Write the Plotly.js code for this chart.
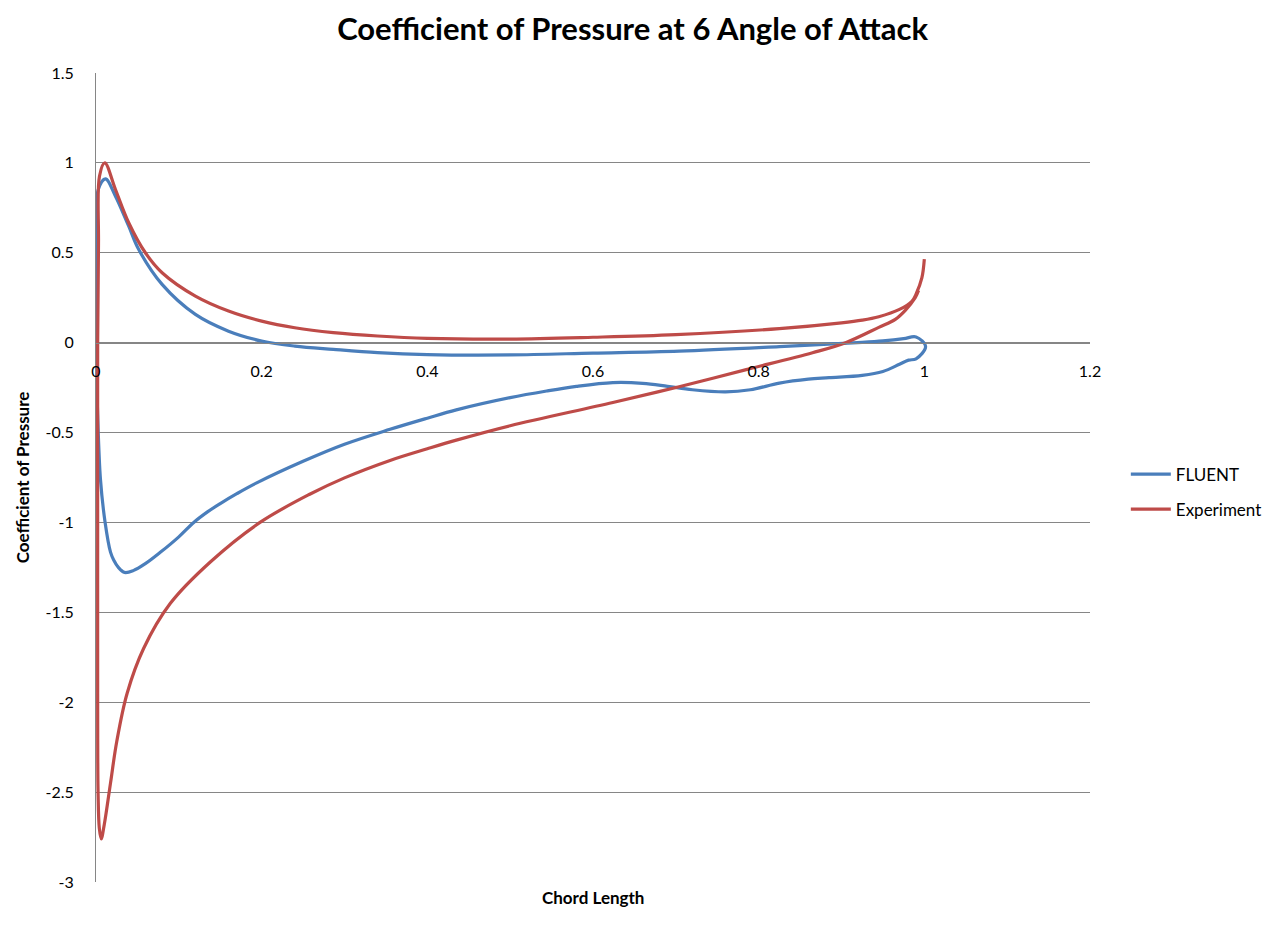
<!DOCTYPE html>
<html>
<head>
<meta charset="utf-8">
<script src="https://cdn.plot.ly/plotly-3.0.1.min.js"></script>
<style>
  body { margin: 0; background: #fff; }
  #chart { width: 1278px; height: 926px; }
</style>
</head>
<body>
<div id="chart"></div>
<script>
// FLUENT: round the section, start at trailing edge, pressure side first
const fluentX = [1.0015, 0.99, 0.975, 0.95, 0.925, 0.825, 0.704, 0.6, 0.5, 0.4, 0.34, 0.2865, 0.24,
  0.2, 0.16, 0.12, 0.0798, 0.0516, 0.0395, 0.0235, 0.0114, 0.0026, 0.0005, 0.0, 0.002, 0.0054,
  0.011, 0.0175, 0.0215, 0.027, 0.0345, 0.045, 0.06, 0.078, 0.1, 0.118, 0.135, 0.15, 0.17, 0.194,
  0.25, 0.3, 0.355, 0.4, 0.435, 0.5, 0.544, 0.58, 0.624, 0.66, 0.69, 0.72, 0.76, 0.79, 0.825,
  0.86, 0.885, 0.925, 0.95, 0.97, 0.981, 0.99, 1.0015];
const fluentY = [-0.022, 0.032, 0.022, 0.01, 0.002, -0.022, -0.047, -0.058, -0.068, -0.066, -0.055,
  -0.037, -0.019, 0.009, 0.064, 0.157, 0.324, 0.518, 0.648, 0.815, 0.911, 0.85, 0.5, 0.0,
  -0.4, -0.76, -1.0, -1.165, -1.21, -1.25, -1.278, -1.268, -1.228, -1.165, -1.08, -1.0, -0.94,
  -0.895, -0.84, -0.78, -0.66, -0.565, -0.482, -0.42, -0.374, -0.306, -0.269, -0.243, -0.222,
  -0.226, -0.243, -0.262, -0.274, -0.262, -0.225, -0.203, -0.195, -0.182, -0.16, -0.12, -0.097,
  -0.09, -0.022];

// Experiment
const expX = [1.0, 0.997, 0.99, 0.985, 0.97, 0.945, 0.925, 0.9, 0.825, 0.7, 0.6, 0.5, 0.4, 0.34,
  0.2865, 0.24, 0.2, 0.16, 0.12, 0.0798, 0.0596, 0.0395, 0.0235, 0.0106, 0.0042, 0.003, 0.002,
  0.002, 0.002, 0.0025, 0.004, 0.0063, 0.01, 0.0175, 0.025, 0.0376, 0.0576, 0.0898, 0.138, 0.198,
  0.258, 0.3, 0.355, 0.4, 0.435, 0.5, 0.624, 0.704, 0.785, 0.865, 0.905, 0.945, 0.965, 0.977,
  0.989, 0.993];
const expY = [0.465, 0.36, 0.27, 0.23, 0.185, 0.144, 0.125, 0.11, 0.078, 0.045, 0.03, 0.02, 0.024,
  0.037, 0.056, 0.083, 0.12, 0.176, 0.259, 0.389, 0.5, 0.667, 0.852, 1.0, 0.926, 0.55, 0.0,
  -1.0, -2.0, -2.5, -2.7, -2.76, -2.68, -2.45, -2.22, -1.95, -1.7, -1.45, -1.22, -1.0,
  -0.843, -0.752, -0.655, -0.59, -0.542, -0.462, -0.333, -0.245, -0.15, -0.056, 0.0, 0.085, 0.13,
  0.18, 0.25, 0.29];

const xTicks = [0, 0.2, 0.4, 0.6, 0.8, 1, 1.2];
const yTicks = [1.5, 1, 0.5, 0, -0.5, -1, -1.5, -2, -2.5, -3];

const font = "Lato, 'Open Sans', 'DejaVu Sans', sans-serif";

var data = [
  {
    x: fluentX, y: fluentY, mode: "lines", type: "scatter", name: "FLUENT", legendgroup: "f",
    line: { color: "#4a7ebb", width: 3.2, shape: "spline", smoothing: 1 }
  },
  {
    x: expX, y: expY, mode: "lines", type: "scatter", name: "Experiment", legendgroup: "e",
    line: { color: "#be4b48", width: 3.2, shape: "spline", smoothing: 1 }
  }
];

var layout = {
  width: 1278, height: 926,
  margin: { l: 96, r: 187, t: 73, b: 44 },
  paper_bgcolor: "#fff", plot_bgcolor: "#fff",
  font: { family: font, color: "#000", size: 16 },
  title: {
    text: "<b>Coefficient of Pressure at 6 Angle of Attack</b>",
    font: { size: 31, family: font }, x: 0.495, xanchor: "center", y: 0.968, yanchor: "middle"
  },
  showlegend: true,
  legend: {
    x: 1.035, y: 0.482, xanchor: "left", yanchor: "middle",
    font: { size: 17, family: font }, tracegroupgap: 10, itemwidth: 40
  },
  xaxis: {
    range: [0, 1.2], tickvals: xTicks, ticktext: xTicks.map(String),
    showgrid: false, zeroline: false, showline: true, linecolor: "#868686", linewidth: 1,
    ticks: "", anchor: "free", position: 3 / 4.5, ticklabelstandoff: 14,
    tickfont: { size: 16, family: font }
  },
  yaxis: {
    range: [-3, 1.5], tickvals: yTicks, ticktext: yTicks.map(String),
    showgrid: true, gridcolor: "#868686", gridwidth: 1, zeroline: false,
    showline: true, linecolor: "#868686", linewidth: 1, ticks: "",
    tickfont: { size: 16, family: font }, ticklabelstandoff: 18,
    title: { text: "<b>Coefficient of Pressure</b>", font: { size: 17, family: font }, standoff: 11 }
  },
  annotations: [
    {
      text: "<b>Chord Length</b>", xref: "paper", yref: "paper", x: 0.5, y: -0.004,
      xanchor: "center", yanchor: "top", showarrow: false, font: { size: 17, family: font }
    }
  ]
};

Plotly.newPlot("chart", data, layout, { staticPlot: true, displayModeBar: false });
</script>
</body>
</html>
